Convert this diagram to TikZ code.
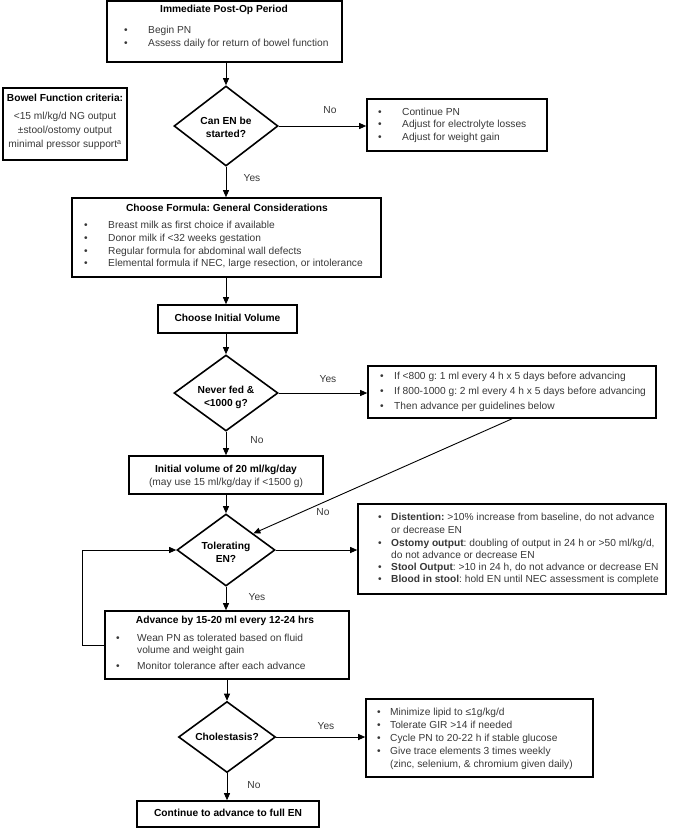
\documentclass[tikz,border=0pt]{standalone}
\usepackage{fontspec}
\setmainfont{Liberation Sans}
\usetikzlibrary{shapes.geometric,arrows.meta,calc}
\frenchspacing
\newcommand\fs{\fontsize{10.2}{12.8}\selectfont}
\definecolor{txtc}{gray}{0.22}
\tikzset{
  x=1pt,y=-1pt,
  box/.style={draw,rectangle,line width=1.6pt,inner sep=0pt},
  dia/.style={draw,diamond,line width=1.6pt,inner sep=0pt,aspect=1},
  arr/.style={line width=0.9pt,-{Triangle[length=7pt,width=6pt]}},
  tx/.style={anchor=west,inner sep=0pt,font=\fs,text=txtc,text height=7.5pt,text depth=2pt},
  bu/.style={anchor=center,inner sep=0pt,font=\fs,text=txtc,text height=7.5pt,text depth=2pt},
  ttl/.style={anchor=center,inner sep=0pt,font=\fs\bfseries,text height=7.5pt,text depth=2pt},
  ctx/.style={anchor=center,inner sep=0pt,font=\fs,text=txtc,text height=7.5pt,text depth=2pt},
  dtx/.style={anchor=center,inner sep=0pt,font=\fs\bfseries,align=center},
  lbl/.style={anchor=center,inner sep=0pt,font=\fs,text=txtc},
}
% name, bullet x, text x, y, text
\newcommand\bitem[5]{\node[bu] (#1b) at (#2,#4) {•}; \node[tx] (#1) at (#3,#4) {#5};}
\begin{document}
\begin{tikzpicture}
\useasboundingbox (0,0) rectangle (685,828);

% ---------- boxes ----------
\node[box,minimum width=235pt,minimum height=61pt] (b1) at (224.5,31.5) {};
\node[box,minimum width=124pt,minimum height=72pt] (bc) at (65,124) {};
\node[box,minimum width=180pt,minimum height=52pt] (br1) at (457,125) {};
\node[box,minimum width=309pt,minimum height=79pt] (bf) at (226.5,237.5) {};
\node[box,minimum width=139pt,minimum height=28pt] (bv) at (227.5,319) {};
\node[box,minimum width=288pt,minimum height=52pt] (bn) at (512,392) {};
\node[box,minimum width=194pt,minimum height=38pt] (bi) at (226,475) {};
\node[box,minimum width=308pt,minimum height=90pt] (bd) at (512,549) {};
\node[box,minimum width=244pt,minimum height=68pt] (ba) at (227,645) {};
\node[box,minimum width=227pt,minimum height=78pt] (bch) at (479.5,738) {};
\node[box,minimum width=182pt,minimum height=26pt] (be) at (228,814) {};

% ---------- diamonds ----------
\node[dia,minimum width=104pt,minimum height=80pt] (d1) at (226,126) {};
\node[dia,minimum width=104pt,minimum height=76pt] (d2) at (226,393) {};
\node[dia,minimum width=98pt,minimum height=72pt] (d3) at (226,550) {};
\node[dia,minimum width=97pt,minimum height=71pt] (d4) at (227,737) {};

\node[dtx] (d1t) at (226,127) {Can EN be\\started?};
\node[dtx] (d2t) at (226,397) {Never fed \&\\<1000 g?};
\node[dtx] (d3t) at (226,552) {Tolerating\\EN?};
\node[dtx] (d4t) at (227,737) {Cholestasis?};

% ---------- box texts ----------
\node[ttl] (b1t) at (224,10) {Immediate Post-Op Period};
\bitem{b1i1}{126}{148}{31}{Begin PN}
\bitem{b1i2}{126}{148}{44}{Assess daily for return of bowel function}

\node[ttl] (bct) at (65,99) {Bowel Function criteria:};
\node[ctx] (bc1) at (65,117) {<15 ml/kg/d NG output};
\node[ctx] (bc2) at (65,131) {±stool/ostomy output};
\node[ctx] (bc3) at (65,145) {minimal pressor support\textsuperscript{a}};

\bitem{r1}{380}{402}{113}{Continue PN}
\bitem{r2}{380}{402}{125}{Adjust for electrolyte losses}
\bitem{r3}{380}{402}{138}{Adjust for weight gain}

\node[ttl] (bft) at (227,209) {Choose Formula: General Considerations};
\bitem{f1}{86}{108}{226}{Breast milk as first choice if available}
\bitem{f2}{86}{108}{239}{Donor milk if <32 weeks gestation}
\bitem{f3}{86}{108}{252}{Regular formula for abdominal wall defects}
\bitem{f4}{86}{108}{264}{Elemental formula if NEC, large resection, or intolerance}

\node[ttl] (bvt) at (227.5,319) {Choose Initial Volume};

\bitem{n1}{382}{394}{377}{If <800 g: 1 ml every 4 h x 5 days before advancing}
\bitem{n2}{382}{394}{392}{If 800-1000 g: 2 ml every 4 h x 5 days before advancing}
\bitem{n3}{382}{394}{407}{Then advance per guidelines below}

\node[ttl] (bit1) at (226,470) {Initial volume of 20 ml/kg/day};
\node[ctx] (bit2) at (226,483) {(may use 15 ml/kg/day if <1500 g)};

\bitem{e1}{380}{391}{518}{\textbf{Distention:} >10\% increase from baseline, do not advance}
\node[tx] (e1b2) at (391,531) {or decrease EN};
\bitem{e2}{380}{391}{544}{\textbf{Ostomy output}: doubling of output in 24 h or >50 ml/kg/d,}
\node[tx] (e2b2) at (391,556) {do not advance or decrease EN};
\bitem{e3}{380}{391}{568}{\textbf{Stool Output}: >10 in 24 h, do not advance or decrease EN}
\bitem{e4}{380}{391}{580}{\textbf{Blood in stool}: hold EN until NEC assessment is complete}

\node[ttl] (bat) at (225,621) {Advance by 15-20 ml every 12-24 hrs};
\bitem{a1}{118}{137}{639}{Wean PN as tolerated based on fluid}
\node[tx] (a1b2) at (137,651) {volume and weight gain};
\bitem{a2}{118}{137}{667}{Monitor tolerance after each advance}

\bitem{c1}{379}{390}{713}{Minimize lipid to ≤1g/kg/d}
\bitem{c2}{379}{390}{726}{Tolerate GIR >14 if needed}
\bitem{c3}{379}{390}{739}{Cycle PN to 20-22 h if stable glucose}
\bitem{c4}{379}{390}{752}{Give trace elements 3 times weekly}
\node[tx] (c4b2) at (390,765) {(zinc, selenium, \& chromium given daily)};

\node[ttl] (bet) at (228,814) {Continue to advance to full EN};

% ---------- connectors ----------
\draw[arr] (d1.north |- b1.south) -- (d1.north);
\draw[arr] (d1.east) -- (d1.east -| br1.west);
\draw[arr] (d1.south) -- (d1.south |- bf.north);
\draw[arr] (d1.south |- bf.south) -- (d1.south |- bv.north);
\draw[arr] (d2.north |- bv.south) -- (d2.north);
\draw[arr] (d2.east) -- (d2.east -| bn.west);
\draw[arr] (d2.south) -- (d2.south |- bi.north);
\draw[arr] (d3.north |- bi.south) -- (d3.north);
\coordinate (d3ne) at ($(d3.north)!0.55!(d3.east)$);
\draw[arr] (bn.south) -- (d3ne);
\draw[arr] (d3.east) -- (d3.east -| bd.west);
\draw[arr] (d3.south) -- (d3.south |- ba.north);
\draw[arr] (ba.west) -- ++(-22,0) |- (d3.west);
\draw[arr] (d4.north |- ba.south) -- (d4.north);
\draw[arr] (d4.east) -- (d4.east -| bch.west);
\draw[arr] (d4.south) -- (d4.south |- be.north);

% ---------- connector labels ----------
\node[lbl] (l1) at (330,110) {No};
\node[lbl] (l2) at (252,178) {Yes};
\node[lbl] (l3) at (328,379) {Yes};
\node[lbl] (l4) at (257,440) {No};
\node[lbl] (l5) at (323,512) {No};
\node[lbl] (l6) at (257,597) {Yes};
\node[lbl] (l7) at (326,726) {Yes};
\node[lbl] (l8) at (254,785) {No};
\end{tikzpicture}
\end{document}
